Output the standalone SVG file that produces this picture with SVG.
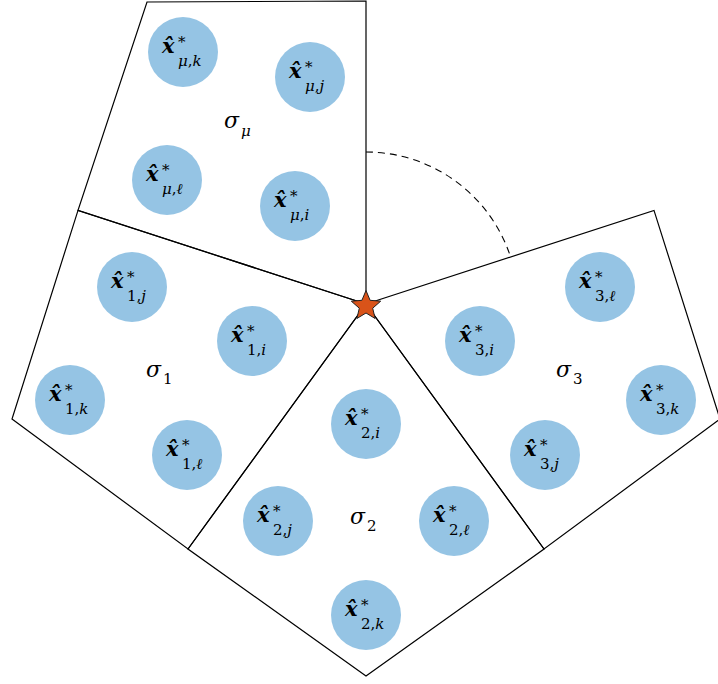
<svg xmlns="http://www.w3.org/2000/svg" width="718" height="684" viewBox="0 0 718 684">
<defs>
<style>
.edge{fill:none;stroke:#000;stroke-width:1.2;stroke-linejoin:miter}
.arc{fill:none;stroke:#000;stroke-width:1.1;stroke-dasharray:7,5}
.pt{fill:#95c4e4;stroke:none}
.x{font-family:"DejaVu Serif","Liberation Serif",serif;font-size:21px;font-weight:bold;font-style:italic;fill:#000}
.sup,.sub{font-family:"DejaVu Serif","Liberation Serif",serif;font-size:15px;font-weight:normal;font-style:normal;fill:#000}
.it{font-style:italic}
.sig{font-family:"DejaVu Serif","Liberation Serif",serif;font-size:22px;font-style:italic;fill:#000}
.star{fill:#d95319;stroke:#222;stroke-width:1}
</style>
</defs>
<rect width="718" height="684" fill="#fff"/>

<g id="connectors">
<polygon class="edge" points="366,304 366,1 147,2 78,210.4"/>
<polygon class="edge" points="366,304 78,210.4 12,419 188,549"/>
<polygon class="edge" points="366,304 188,549 366,676 544,549"/>
<polygon class="edge" points="366,304 544,549 720,419 654,210.4"/>
<path class="arc" d="M366,152 A152,152 0 0 1 510.6,257"/>
</g>

<g id="sector-mu">
<g id="x-mu-k"><circle class="pt" cx="183" cy="52" r="35"/><text class="x" x="162" y="53">x̂<tspan class="sup" x="178" y="47">*</tspan><tspan class="sub" x="178" y="66"><tspan class="it">μ</tspan>,<tspan class="it">k</tspan></tspan></text></g>
<g id="x-mu-j"><circle class="pt" cx="310" cy="77" r="35"/><text class="x" x="289" y="78">x̂<tspan class="sup" x="305" y="72">*</tspan><tspan class="sub" x="305" y="91"><tspan class="it">μ</tspan>,<tspan class="it">j</tspan></tspan></text></g>
<g id="x-mu-l"><circle class="pt" cx="167" cy="180" r="35"/><text class="x" x="146" y="181">x̂<tspan class="sup" x="162" y="175">*</tspan><tspan class="sub" x="162" y="194"><tspan class="it">μ</tspan>,<tspan class="it">ℓ</tspan></tspan></text></g>
<g id="x-mu-i"><circle class="pt" cx="295" cy="206" r="35"/><text class="x" x="274" y="207">x̂<tspan class="sup" x="290" y="201">*</tspan><tspan class="sub" x="290" y="220"><tspan class="it">μ</tspan>,<tspan class="it">i</tspan></tspan></text></g>
<g id="sigma-mu"><text class="sig" x="224" y="128">σ<tspan class="sub it" x="241" y="136">μ</tspan></text></g>
</g>

<g id="sector-1">
<g id="x-1-j"><circle class="pt" cx="132" cy="287" r="35"/><text class="x" x="111" y="288">x̂<tspan class="sup" x="127" y="282">*</tspan><tspan class="sub" x="127" y="301">1,<tspan class="it">j</tspan></tspan></text></g>
<g id="x-1-i"><circle class="pt" cx="252" cy="341" r="35"/><text class="x" x="231" y="342">x̂<tspan class="sup" x="247" y="336">*</tspan><tspan class="sub" x="247" y="355">1,<tspan class="it">i</tspan></tspan></text></g>
<g id="x-1-k"><circle class="pt" cx="70" cy="400" r="35"/><text class="x" x="49" y="401">x̂<tspan class="sup" x="65" y="395">*</tspan><tspan class="sub" x="65" y="414">1,<tspan class="it">k</tspan></tspan></text></g>
<g id="x-1-l"><circle class="pt" cx="187" cy="455" r="35"/><text class="x" x="166" y="456">x̂<tspan class="sup" x="182" y="450">*</tspan><tspan class="sub" x="182" y="469">1,<tspan class="it">ℓ</tspan></tspan></text></g>
<g id="sigma-1"><text class="sig" x="146" y="377">σ<tspan class="sub" x="163" y="384">1</tspan></text></g>
</g>

<g id="sector-2">
<g id="x-2-i"><circle class="pt" cx="366" cy="424" r="35"/><text class="x" x="345" y="425">x̂<tspan class="sup" x="361" y="419">*</tspan><tspan class="sub" x="361" y="438">2,<tspan class="it">i</tspan></tspan></text></g>
<g id="x-2-j"><circle class="pt" cx="278" cy="521" r="35"/><text class="x" x="257" y="522">x̂<tspan class="sup" x="273" y="516">*</tspan><tspan class="sub" x="273" y="535">2,<tspan class="it">j</tspan></tspan></text></g>
<g id="x-2-l"><circle class="pt" cx="454" cy="521" r="35"/><text class="x" x="433" y="522">x̂<tspan class="sup" x="449" y="516">*</tspan><tspan class="sub" x="449" y="535">2,<tspan class="it">ℓ</tspan></tspan></text></g>
<g id="x-2-k"><circle class="pt" cx="366" cy="615" r="35"/><text class="x" x="345" y="616">x̂<tspan class="sup" x="361" y="610">*</tspan><tspan class="sub" x="361" y="629">2,<tspan class="it">k</tspan></tspan></text></g>
<g id="sigma-2"><text class="sig" x="350" y="524">σ<tspan class="sub" x="367" y="531">2</tspan></text></g>
</g>

<g id="sector-3">
<g id="x-3-l"><circle class="pt" cx="600" cy="287" r="35"/><text class="x" x="579" y="288">x̂<tspan class="sup" x="595" y="282">*</tspan><tspan class="sub" x="595" y="301">3,<tspan class="it">ℓ</tspan></tspan></text></g>
<g id="x-3-i"><circle class="pt" cx="480" cy="341" r="35"/><text class="x" x="459" y="342">x̂<tspan class="sup" x="475" y="336">*</tspan><tspan class="sub" x="475" y="355">3,<tspan class="it">i</tspan></tspan></text></g>
<g id="x-3-k"><circle class="pt" cx="661" cy="400" r="35"/><text class="x" x="640" y="401">x̂<tspan class="sup" x="656" y="395">*</tspan><tspan class="sub" x="656" y="414">3,<tspan class="it">k</tspan></tspan></text></g>
<g id="x-3-j"><circle class="pt" cx="545" cy="455" r="35"/><text class="x" x="524" y="456">x̂<tspan class="sup" x="540" y="450">*</tspan><tspan class="sub" x="540" y="469">3,<tspan class="it">j</tspan></tspan></text></g>
<g id="sigma-3"><text class="sig" x="556" y="377">σ<tspan class="sub" x="573" y="384">3</tspan></text></g>
</g>

<g id="origin">
<polygon class="star" points="366,290.5 370.1,300.3 380.7,301.2 372.7,308.2 375.1,318.5 366,313 356.9,318.5 359.3,308.2 351.3,301.2 361.9,300.3"/>
</g>
</svg>
